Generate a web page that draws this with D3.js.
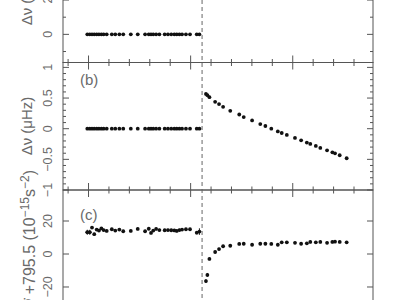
<!DOCTYPE html>
<html>
<head>
<meta charset="utf-8">
<script src="https://cdn.jsdelivr.net/npm/d3@7"></script>
<style>
	body { margin: 0; background: #fff; }
	text { font-family: "Liberation Sans", "DejaVu Sans", sans-serif; fill: #6a6a6a; }
	.frame, .tick { stroke: #555; stroke-width: 1; fill: none; }
	.glitch { stroke: #666; stroke-width: 1; stroke-dasharray: 4,3; }
	.dot { fill: #111; }
	.err { stroke: #222; stroke-width: 1; }
</style>
</head>
<body>
<div id="chart"></div>
<script>
// epochs (MJD) before and after the glitch
var pre_mjd = [53994, 54006, 54017, 54028, 54040, 54051, 54063, 54074, 54089, 54114,
	54131, 54151, 54170, 54207, 54241, 54277, 54295, 54306, 54317, 54331,
	54347, 54373, 54389, 54405, 54420, 54432, 54445, 54458, 54477, 54497,
	54530, 54543];
var post_mjd = [54575, 54582, 54592, 54620, 54639, 54659, 54694, 54738, 54760, 54801,
	54841, 54866, 54895, 54927, 54946, 54971, 55011, 55041, 55069, 55086,
	55113, 55135, 55168, 55194, 55207, 55230, 55264];
var glitch_mjd = 54556;

// (a) and (b): frequency residuals, pre-glitch sit on zero
var pre_dnu_a = pre_mjd.map(function() { return 0; });
var pre_dnu_b = pre_mjd.map(function() { return 0; });
var post_dnu_b = [0.568, 0.547, 0.515, 0.438, 0.401, 0.357, 0.292, 0.232, 0.190, 0.135,
	0.076, 0.044, 0.000, -0.044, -0.070, -0.102, -0.151, -0.190, -0.227, -0.248,
	-0.281, -0.313, -0.352, -0.385, -0.401, -0.433, -0.482];

// (c): nu-dot + 795.5 (1e-15 s^-2)
var pre_nudot = [13.2, 13.2, 16.0, 12.0, 14.8, 14.2, 15.5, 14.5, 14.0, 15.0,
	14.2, 14.8, 13.8, 14.0, 15.2, 13.8, 15.3, 12.8, 14.2, 15.2,
	14.5, 14.4, 14.5, 14.4, 14.3, 14.0, 14.5, 14.8, 15.0, 15.0,
	12.9, 13.6];
var pre_nudot_err = [1.5, 1.5, 0.8, 0.8, 0.8, 0.8, 0.8, 0.8, 0.8, 0.8,
	0.8, 0.8, 0.8, 0.8, 0.8, 0.8, 0.8, 0.8, 0.8, 0.8,
	0.8, 0.8, 0.8, 0.8, 0.8, 0.8, 0.8, 0.8, 0.8, 0.8,
	1.0, 2.0];
var pre_mjd_err = [10, 10, 0, 0, 0, 0, 0, 0, 0, 0,
	0, 0, 0, 0, 0, 0, 0, 0, 0, 0,
	0, 0, 0, 0, 0, 0, 0, 0, 0, 0,
	0, 0];
var post_nudot = [-16.4, -12.7, -3.0, 1.2, 3.0, 4.7, 5.0, 6.1, 6.2, 5.6,
	6.2, 6.2, 6.1, 5.6, 7.1, 7.1, 6.8, 6.2, 6.5, 7.3,
	7.1, 7.3, 6.8, 7.3, 7.5, 7.3, 7.1];
var post_nudot_err = [1.2, 1.2, 0.8, 0.8, 0.8, 0.8, 0.8, 0.8, 0.8, 0.8,
	0.8, 0.8, 0.8, 0.8, 0.8, 0.8, 0.8, 0.8, 0.8, 0.8,
	0.8, 0.8, 0.8, 0.8, 0.8, 0.8, 0.8, 0.8];

var width = 400, height = 300;
var left = 63, right = 373;

var svg = d3.select("#chart").append("svg")
	.attr("width", width)
	.attr("height", height);

var x = d3.scaleLinear().domain([53875, 55393]).range([left, right]);

// panels stacked, (a) runs off the top and (c) off the bottom
var panels = [
	{ name: "a", y: d3.scaleLinear().domain([-1.64, 5.82]).range([62.5, -65.5]),
	  major: 2, minor: 1, fmt: d3.format("d") },
	{ name: "b", y: d3.scaleLinear().domain([-1, 1.08]).range([190, 62.5]),
	  major: 0.5, minor: 0.1, fmt: function(d) { return d3.format("")(d).replace("-", "\u2212"); } },
	{ name: "c", y: d3.scaleLinear().domain([-38.8, 38.8]).range([318, 190]),
	  major: 20, minor: 0, fmt: function(d) { return d3.format("d")(d).replace("-", "\u2212"); } }
];

var xMinor = d3.range(53900, 55393, 100);

panels.forEach(function(p) {
	var g = svg.append("g");
	var y0 = p.y.range()[0], y1 = p.y.range()[1];
	var dom = p.y.domain();

	g.append("rect")
		.attr("class", "frame")
		.attr("x", left)
		.attr("y", y1)
		.attr("width", right - left)
		.attr("height", y0 - y1);

	// x ticks, inward on top and bottom
	xMinor.forEach(function(t) {
		var len = (t % 500 === 0) ? 7 : 3.5;
		g.append("line").attr("class", "tick")
			.attr("x1", x(t)).attr("x2", x(t))
			.attr("y1", y0).attr("y2", y0 - len);
		g.append("line").attr("class", "tick")
			.attr("x1", x(t)).attr("x2", x(t))
			.attr("y1", y1).attr("y2", y1 + len);
	});

	// y ticks, inward on left and right
	var step = p.minor || p.major;
	var n0 = Math.ceil(dom[0] / step - 1e-6), n1 = Math.floor(dom[1] / step + 1e-6);
	d3.range(n0, n1 + 1).forEach(function(i) {
		var v = +(i * step).toFixed(6);
		var isMajor = Math.abs(v / p.major - Math.round(v / p.major)) < 1e-6;
		var len = isMajor ? 6 : 3;
		var yy = p.y(v);
		g.append("line").attr("class", "tick")
			.attr("x1", left).attr("x2", left + len)
			.attr("y1", yy).attr("y2", yy);
		g.append("line").attr("class", "tick")
			.attr("x1", right).attr("x2", right - len)
			.attr("y1", yy).attr("y2", yy);
		if (isMajor) {
			g.append("text")
				.attr("transform", "translate(47," + yy + ") rotate(-90)")
				.attr("text-anchor", "middle")
				.attr("dy", "0.36em")
				.style("font-size", "12.5px")
				.text(p.fmt(v));
		}
	});
});

var yA = panels[0].y, yB = panels[1].y, yC = panels[2].y;

// glitch epoch
svg.append("line")
	.attr("class", "glitch")
	.attr("x1", x(glitch_mjd)).attr("x2", x(glitch_mjd))
	.attr("y1", -70).attr("y2", 320);

function dots(xs, ys, yscale) {
	svg.append("g").selectAll("circle")
		.data(xs)
		.enter().append("circle")
		.attr("class", "dot")
		.attr("cx", function(d) { return x(d); })
		.attr("cy", function(d, i) { return yscale(ys[i]); })
		.attr("r", 1.9);
}

function errs(xs, ys, yerr, xerr, yscale) {
	var g = svg.append("g");
	xs.forEach(function(d, i) {
		g.append("line").attr("class", "err")
			.attr("x1", x(d)).attr("x2", x(d))
			.attr("y1", yscale(ys[i] - yerr[i])).attr("y2", yscale(ys[i] + yerr[i]));
		if (xerr && xerr[i]) {
			g.append("line").attr("class", "err")
				.attr("x1", x(d - xerr[i])).attr("x2", x(d + xerr[i]))
				.attr("y1", yscale(ys[i])).attr("y2", yscale(ys[i]));
		}
	});
}

dots(pre_mjd, pre_dnu_a, yA);
dots(pre_mjd, pre_dnu_b, yB);
dots(post_mjd, post_dnu_b, yB);
errs(pre_mjd, pre_nudot, pre_nudot_err, pre_mjd_err, yC);
errs(post_mjd, post_nudot, post_nudot_err, null, yC);
dots(pre_mjd, pre_nudot, yC);
dots(post_mjd, post_nudot, yC);

// panel letters
svg.append("text").attr("x", 80).attr("y", 85).style("font-size", "15px").text("(b)");
svg.append("text").attr("x", 80).attr("y", 220).style("font-size", "15px").text("(c)");

// axis titles
svg.append("text")
	.attr("transform", "translate(27,-4) rotate(-90)")
	.attr("text-anchor", "middle")
	.attr("dy", "0.35em")
	.style("font-size", "15px")
	.text("\u0394\u03bd (\u03bcHz)");

svg.append("text")
	.attr("transform", "translate(27,126) rotate(-90)")
	.attr("text-anchor", "middle")
	.attr("dy", "0.35em")
	.style("font-size", "15px")
	.text("\u0394\u03bd  (\u03bcHz)");

var lab = svg.append("text")
	.attr("transform", "translate(29,170) rotate(-90)")
	.attr("text-anchor", "end")
	.attr("dy", "0.35em")
	.style("font-size", "16px");
lab.append("tspan").text("\u03bd\u0307 +795.5 (10");
lab.append("tspan").attr("dy", -6).style("font-size", "12px").text("\u221215");
lab.append("tspan").attr("dy", 6).text("s");
lab.append("tspan").attr("dy", -6).style("font-size", "12px").text("\u22122");
lab.append("tspan").attr("dy", 6).text(")");
</script>
</body>
</html>
